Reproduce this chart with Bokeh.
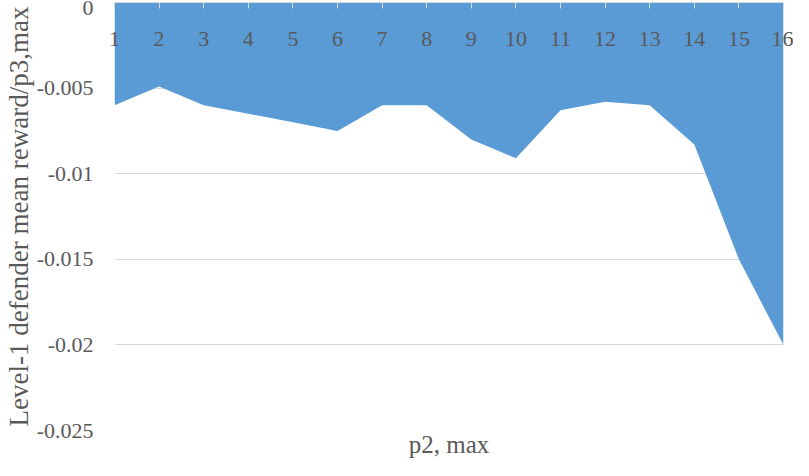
from bokeh.plotting import figure
from bokeh.models import ColumnDataSource, FixedTicker, LinearAxis, Range1d
from bokeh.embed import file_html
from bokeh.resources import INLINE

# Data
p2_max = [1, 2, 3, 4, 5, 6, 7, 8, 9, 10, 11, 12, 13, 14, 15, 16]
p2_labels = [str(v) for v in p2_max]
reward = [-0.006, -0.0049, -0.006, -0.0065, -0.007, -0.0075, -0.006, -0.006,
          -0.008, -0.0091, -0.0063, -0.0058, -0.006, -0.0083, -0.015, -0.02]
zeros = [0.0] * len(p2_max)
y_ticks = [0, -0.005, -0.01, -0.015, -0.02, -0.025]
y_tick_labels = ["0", "-0.005", "-0.01", "-0.015", "-0.02", "-0.025"]

FONT = "Liberation Serif"
TEXT = "#595959"
GRID = "#d9d9d9"

src = ColumnDataSource(dict(x=p2_max, y=reward, z=zeros))

p = figure(width=793, height=460, output_backend="svg", toolbar_location=None,
           x_range=Range1d(1, 16), y_range=Range1d(-0.025, 0),
           min_border_left=110, min_border_right=10, min_border_top=2,
           min_border_bottom=28)
p.outline_line_color = None
p.background_fill_color = "white"

p.varea(x="x", y1="z", y2="y", source=src, fill_color="#5b9bd5")

# y axis
yax = p.yaxis[0]
yax.ticker = FixedTicker(ticks=y_ticks)
yax.major_label_overrides = {t: l for t, l in zip(y_ticks, y_tick_labels)}
yax.axis_line_color = None
yax.major_tick_line_color = None
yax.minor_tick_line_color = None
yax.major_tick_out = 0
yax.major_tick_in = 0
yax.major_label_standoff = 21
yax.major_label_text_font = FONT
yax.major_label_text_font_size = "22px"
yax.major_label_text_color = TEXT
yax.axis_label = "Level-1 defender mean reward/p3,max"
yax.axis_label_text_font = FONT
yax.axis_label_text_font_size = "27px"
yax.axis_label_text_font_style = "normal"
yax.axis_label_text_color = TEXT
yax.axis_label_standoff = 0

p.ygrid.ticker = FixedTicker(ticks=y_ticks)
p.ygrid.grid_line_color = GRID
p.ygrid.grid_line_width = 1
p.xgrid.grid_line_color = None

# bottom x axis: title only
xax = p.xaxis[0]
xax.ticker = FixedTicker(ticks=[])
xax.axis_line_color = None
xax.major_tick_line_color = None
xax.minor_tick_line_color = None
xax.major_tick_out = 0
xax.major_tick_in = 0
xax.major_label_standoff = 0
xax.axis_label = "p2, max"
xax.axis_label_text_font = FONT
xax.axis_label_text_font_size = "25px"
xax.axis_label_text_font_style = "normal"
xax.axis_label_text_color = TEXT
xax.axis_label_standoff = 0

# top axis line with inward ticks; labels drawn just below the line
top = LinearAxis(ticker=FixedTicker(ticks=p2_max))
top.major_label_overrides = {t: l for t, l in zip(p2_max, p2_labels)}
top.axis_line_color = GRID
top.major_tick_line_color = GRID
top.minor_tick_line_color = None
top.major_tick_in = 6
top.major_tick_out = 0
top.major_label_standoff = -43
top.major_label_text_font = FONT
top.major_label_text_font_size = "22px"
top.major_label_text_color = TEXT
p.add_layout(top, "above")

open("out.html", "w").write(file_html(p, INLINE))
